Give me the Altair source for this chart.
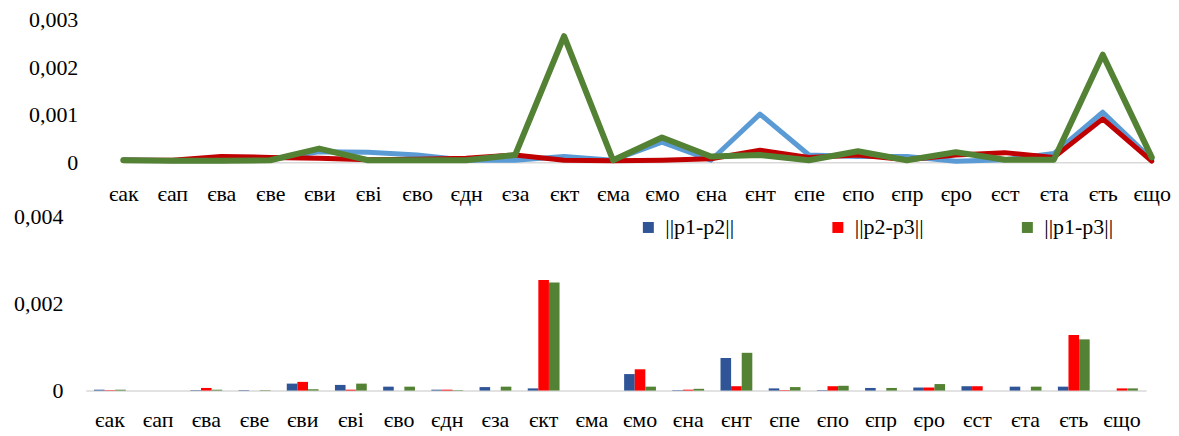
import altair as alt
import pandas as pd

FONT = "Liberation Serif, Times New Roman, serif"

categories = ["єак", "єап", "єва", "єве", "єви", "єві", "єво", "єдн", "єза", "єкт", "єма",
              "ємо", "єна", "єнт", "єпе", "єпо", "єпр", "єро", "єст", "єта", "єть", "єщо"]

series_names = ["||p1-p2||", "||p2-p3||", "||p1-p3||"]

# top panel (lines)
line_p1p2 = [0.00005, 0.00003, 0.00003, 0.00006, 0.00022, 0.00021, 0.00015, 0.00004, 0.00004, 0.00012, 0.00004,
             0.00042, 0.00004, 0.00101, 0.00015, 0.00012, 0.00012, 0.00002, 0.00005, 0.00018, 0.00105, 0.00006]
line_p2p3 = [0.00004, 0.00004, 0.00012, 0.00010, 0.00008, 0.00005, 0.00006, 0.00008, 0.00015, 0.00004, 0.00003,
             0.00004, 0.00007, 0.00025, 0.00010, 0.00015, 0.00005, 0.00015, 0.00020, 0.00010, 0.00091, 0.00002]
line_p1p3 = [0.00004, 0.00003, 0.00003, 0.00004, 0.000285, 0.00004, 0.00004, 0.00004, 0.00015, 0.00265, 0.00004,
             0.00052, 0.00012, 0.00015, 0.00004, 0.00023, 0.00004, 0.00021, 0.00005, 0.00005, 0.00226, 0.00010]

# bottom panel (bars)
bar_p1p2 = [0.00002, 0.0, 0.00001, 0.00001, 0.00016, 0.00013, 0.00009, 0.00002, 0.00008, 0.00005, 0.0,
            0.00038, 0.00001, 0.00075, 0.00005, 0.00001, 0.00006, 0.00007, 0.00010, 0.00009, 0.00009, 0.0]
bar_p2p3 = [0.00001, 0.0, 0.00006, 0.0, 0.00020, 0.00002, 0.0, 0.00002, 0.0, 0.00255, 0.0,
            0.00049, 0.00002, 0.00010, 0.00001, 0.00010, 0.0, 0.00007, 0.00010, 0.0, 0.00128, 0.00005]
bar_p1p3 = [0.00002, 0.0, 0.00002, 0.00001, 0.00003, 0.00016, 0.00009, 0.00001, 0.00009, 0.00249, 0.0,
            0.00009, 0.00004, 0.00087, 0.00008, 0.00011, 0.00006, 0.00015, 0.0, 0.00009, 0.00118, 0.00005]

line_colors = ["#5B9BD5", "#C00000", "#548235"]
line_widths = [5, 5, 6]
bar_colors = ["#2F5597", "#FF0000", "#548235"]

top_ticks = [0, 0.001, 0.002, 0.003]
bottom_ticks = [0, 0.002, 0.004]


def long_df(series_lists):
    rows = []
    for name, vals in zip(series_names, series_lists):
        for c, v in zip(categories, vals):
            rows.append({"cat": c, "series": name, "val": v})
    return pd.DataFrame(rows)


line_df = long_df([line_p1p2, line_p2p3, line_p1p3])
bar_df = long_df([bar_p1p2, bar_p2p3, bar_p1p3])

fmt = "replace(format(datum.value, '.3f'), '.', ',')"
label_expr_top = "datum.value == 0 ? '0' : " + fmt
label_expr_bottom = ("datum.value == 0 ? '0' : (datum.value > 0.0035 ? " + fmt +
                     " + '\u00a0\u00a0' : " + fmt + ")")

common_axis = dict(labelFont=FONT, labelFontSize=22, labelColor="black",
                   ticks=False, tickSize=0, title=None)

x_top = alt.X("cat:N", sort=categories,
              scale=alt.Scale(type="point", range=[24.6, 1055.7], padding=0),
              axis=alt.Axis(labelAngle=0, labelPadding=21.6, domain=False, grid=False,
                            **common_axis))
y_top = alt.Y("val:Q", scale=alt.Scale(domain=[0, 0.003], nice=False, zero=True),
              axis=alt.Axis(values=top_ticks, labelExpr=label_expr_top, domain=False,
                            grid=True, gridColor="#D9D9D9", gridWidth=1.5,
                            gridOpacity={"condition": {"test": "datum.value === 0", "value": 1}, "value": 0},
                            labelPadding=21, minExtent=91, maxExtent=91, **common_axis))

base = alt.Chart(line_df)
layers = []
for name, col, w in zip(series_names, line_colors, line_widths):
    layers.append(
        base.transform_filter(alt.datum.series == name)
        .mark_line(color=col, strokeWidth=w, strokeJoin="round", strokeCap="round")
        .encode(x=x_top, y=y_top)
    )
top = alt.layer(*layers).properties(width=1072, height=143)

bottom = alt.Chart(bar_df).mark_bar().encode(
    x=alt.X("cat:N", sort=categories,
            scale=alt.Scale(paddingInner=0.34, paddingOuter=0.17, range=[-13, 1050]),
            axis=alt.Axis(labelAngle=0, labelPadding=18.6, domainColor="#D9D9D9",
                          domainWidth=1.5, grid=False, **common_axis)),
    xOffset=alt.XOffset("series:N", sort=series_names,
                        scale=alt.Scale(paddingInner=0, paddingOuter=0)),
    y=alt.Y("val:Q", scale=alt.Scale(domain=[0, 0.004], nice=False),
            axis=alt.Axis(values=bottom_ticks, labelExpr=label_expr_bottom, domain=False, grid=False,
                          offset=13, labelPadding=23, minExtent=78, maxExtent=78, **common_axis)),
    color=alt.Color("series:N", sort=series_names,
                    scale=alt.Scale(domain=series_names, range=bar_colors),
                    legend=alt.Legend(title=None, orient="none", legendX=540, legendY=197.5,
                                      direction="horizontal", columns=3, columnPadding=93,
                                      symbolType="square", symbolSize=121, symbolStrokeWidth=0,
                                      labelFont=FONT, labelFontSize=22, labelColor="black",
                                      labelOffset=6, padding=0)),
).properties(width=1050, height=174)

chart = alt.vconcat(top, bottom, spacing=1).properties(padding=0).configure_view(stroke=None)

chart.save("out.html", embed_options={"renderer": "svg", "actions": False})
